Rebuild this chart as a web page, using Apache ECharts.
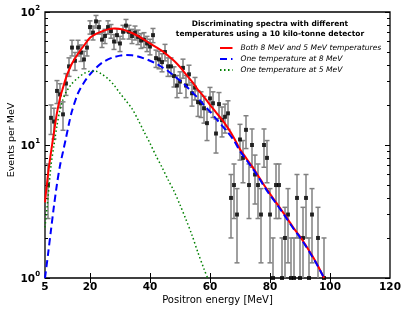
<!DOCTYPE html>
<html><head><meta charset="utf-8">
<script src="https://cdn.jsdelivr.net/npm/echarts@6/dist/echarts.min.js"></script>
<style>html,body{margin:0;padding:0;background:#fff}#c{width:407px;height:312px}</style>
</head><body><div id="c"></div>
<script>
// ---- data ----
const energy = [6,7,8,9,10,11,12,13,14,15,16,17,18,19,20,21,22,23,24,25,26,27,28,29,30,31,32,33,34,35,36,37,38,39,40,41,42,43,44,45,46,47,48,49,50,51,52,53,54,55,56,57,58,59,60,61,62,63,64,65,66,67,68,69,70,71,72,73,74,75,76,77,78,79,80,81,82,83,84,85,86,87,88,89,90,91,92,93,94,96,98];
const events = [5,16,15,25.5,24,17,29,39,54,43,54,49.5,44,54,77,70,85,77,62,66,77,72,60,67,58,71,79,71,66,70,65,61,62,58,55,67,45,44,42,50,39,39,33,28,30,38,28,34,24.5,27,21,20.6,18.9,14.6,22.4,20.6,12.2,20.3,15.4,16.3,17.3,4,5,3,11,8,13,5,10,6,5,3,10,8,3,1,5,5,1,2,3,1,1,4,1,2,4,1,3,2,1];
const errors = [2.2,4.0,3.9,5.0,4.9,4.1,5.4,6.2,7.3,6.6,7.3,7.0,6.6,7.3,8.8,8.4,9.2,8.8,7.9,8.1,8.8,8.5,7.7,8.2,7.6,8.4,8.9,8.4,8.1,8.4,8.1,7.8,7.9,7.6,7.4,8.2,6.7,6.6,6.5,7.1,6.2,6.2,5.7,5.3,5.5,6.2,5.3,5.8,4.9,5.2,4.6,4.5,4.3,3.8,4.7,4.5,3.5,4.5,3.9,4.0,4.2,2.0,2.2,1.7,3.3,2.8,3.6,2.2,3.2,2.4,2.2,1.7,3.2,2.8,1.7,1.0,2.2,2.2,1.0,1.4,1.7,1.0,1.0,2.0,1.0,1.4,2.0,1.0,1.7,1.4,1.0];

const curveE = [5,6,7,8,9,10,11,12,13,14,16,18,20,22,24,26,28,30,32,34,36,38,40,42,44,46,48,50,52,54,56,58,60,62,64,66,68,70,72,74,76,78,80,82,84,86,88,90,92,94,96,98];
const bothTemps = [3.7,6.0,8.8,12.5,17.5,22.5,27,32,36.5,41,48.5,56,64,68.5,71.5,74,75,74.5,72.5,69.5,66,62,58,54.5,51,47,43,38.6,34,30,26,23,20,17.6,15.5,13.4,11.3,9.3,8,6.9,5.9,5,4.3,3.7,3.2,2.75,2.35,2.05,1.75,1.48,1.23,1.0];
const oneTemp8 = [1.0,1.5,2.3,3.5,5.1,7,8.9,11.3,14.5,18,24.5,29.5,34,38,41.5,44,45.8,47,47.5,47.3,46.3,44.8,43,41,38.5,36,33.2,30.5,27.8,25,22.5,20,17.8,15.8,14,12.4,10.8,9.0,7.8,6.75,5.8,4.9,4.2,3.65,3.15,2.7,2.32,2.02,1.73,1.46,1.22,1.0];
const greenE = [5,6,7,8,9,10,11,12,13,14,16,18,20,22,24,26,28,30,32,34,36,38,40,42,44,46,48,50,52,54,56,58,59.2];
const oneTemp5 = [2.4,4.0,7.0,10,14,18.5,22,25,27,29,32,34.5,35.8,35.8,34,31.5,28.2,24.5,21.5,18.8,15.5,12.6,10.3,8.3,6.8,5.5,4.5,3.55,2.75,2.1,1.55,1.17,1.0];

const xLabelValues = [5,20,40,60,80,100,120];
const xTickValues = [20,40,60,80,100];
const yMinorTicks = [2,3,4,5,6,7,8,9,20,30,40,50,60,70,80,90];

const names = ['Both 8 MeV and 5 MeV temperatures','One temperature at 8 MeV','One temperature at 5 MeV'];
const titleText = 'Discriminating spectra with different\ntemperatures using a 10 kilo-tonne detector';

const FONT = 'DejaVu Sans';
const chart = echarts.init(document.getElementById('c'), null, {renderer:'canvas'});

const zipped = (xs, ys) => xs.map((x, i) => [x, ys[i]]);
const minorLog = yMinorTicks.map(v => Math.log10(v));

const xBase = {
  type:'value', min:5, max:120, gridIndex:0,
  splitLine:{show:false}, axisLine:{show:false}
};
const logBase = {
  type:'log', logBase:10, min:1, max:100,
  splitLine:{show:false}, axisLine:{show:false}, minorTick:{show:false}
};
const minorBase = {
  type:'value', min:0, max:2, splitLine:{show:false}, axisLine:{show:false},
  axisLabel:{show:false},
  axisTick:{show:true, inside:true, length:3, customValues:minorLog, lineStyle:{color:'#000', width:1}}
};

chart.setOption({
  animation:false,
  textStyle:{fontFamily:FONT},
  grid:{left:45, right:17, top:12, bottom:34, containLabel:false, outerBoundsMode:'none',
        show:true, borderColor:'#000', borderWidth:1.3, backgroundColor:'transparent'},
  graphic:[{
    type:'text', x:270, y:19.5, z:100,
    style:{text:titleText, textAlign:'center', textVerticalAlign:'top', font:'bold 7.5px "DejaVu Sans"', lineHeight:9.5, fill:'#000'}
  }],
  legend:{
    data:names, orient:'vertical', left:219, top:43.5, padding:0, itemWidth:12.5, itemHeight:8, itemGap:2,
    itemStyle:{opacity:0, color:'transparent', borderWidth:0},
    textStyle:{fontStyle:'italic', fontSize:7.6, color:'#000', fontFamily:FONT, lineHeight:9, padding:[0,0,0,3]}
  },
  xAxis:[
    Object.assign({}, xBase, {
      position:'bottom',
      name:'Positron energy [MeV]', nameLocation:'middle', nameGap:17, nameMoveOverlap:false,
      nameTextStyle:{fontSize:10, color:'#000', fontFamily:FONT},
      axisLabel:{customValues:xLabelValues, color:'#000', fontWeight:'bold', fontSize:10.5, margin:4, fontFamily:FONT},
      axisTick:{show:true, inside:true, length:5, customValues:xTickValues, lineStyle:{color:'#000', width:1}}
    }),
    Object.assign({}, xBase, {
      position:'top',
      axisLabel:{show:false},
      axisTick:{show:true, inside:true, length:5, customValues:xTickValues, lineStyle:{color:'#000', width:1}}
    })
  ],
  yAxis:[
    Object.assign({}, logBase, {
      position:'left',
      name:'Events per MeV', nameLocation:'middle', nameGap:28, nameMoveOverlap:false,
      nameTextStyle:{fontSize:9.5, color:'#000', fontFamily:FONT, padding:[0,0,0,10]},
      axisTick:{show:true, inside:true, length:5, lineStyle:{color:'#000', width:1}},
      axisLabel:{
        margin:5, color:'#000',
        formatter: v => '{b|10}{s|' + Math.round(Math.log10(v)) + '}',
        rich:{
          b:{fontWeight:'bold', fontSize:10.5, fontFamily:FONT, color:'#000', verticalAlign:'bottom', lineHeight:14},
          s:{fontWeight:'bold', fontSize:7, fontFamily:FONT, color:'#000', verticalAlign:'top', lineHeight:14, padding:[0,0,6,0]}
        }
      }
    }),
    Object.assign({}, logBase, {
      position:'right',
      axisLabel:{show:false},
      axisTick:{show:true, inside:true, length:5, lineStyle:{color:'#000', width:1}}
    }),
    Object.assign({}, minorBase, {position:'left'}),
    Object.assign({}, minorBase, {position:'right'})
  ],
  series:[
    {
      type:'custom', name:'errorbars', xAxisIndex:0, yAxisIndex:0, clip:true, z:2,
      data: energy.map((e, i) => [e, events[i], errors[i]]),
      encode:{x:0, y:1},
      renderItem(params, api){
        const x = api.value(0), v = api.value(1), er = api.value(2);
        const lo = v - er > 0.01 ? v - er : 0.01;
        const hi = v + er;
        const pH = api.coord([x, hi]);
        const pL = api.coord([x, lo]);
        const cw = 2.5;
        const st = {stroke:'#808080', lineWidth:1.5};
        return {type:'group', children:[
          {type:'line', shape:{x1:pH[0], y1:pH[1], x2:pL[0], y2:pL[1]}, style:st},
          {type:'line', shape:{x1:pH[0]-cw, y1:pH[1], x2:pH[0]+cw, y2:pH[1]}, style:st},
          {type:'line', shape:{x1:pL[0]-cw, y1:pL[1], x2:pL[0]+cw, y2:pL[1]}, style:st}
        ]};
      }
    },
    {
      type:'scatter', name:'data', xAxisIndex:0, yAxisIndex:0, z:3,
      symbol:'rect', symbolSize:4, itemStyle:{color:'#000'},
      data: zipped(energy, events)
    },
    {
      type:'line', name:names[0], xAxisIndex:0, yAxisIndex:0, z:4,
      showSymbol:false, symbol:'none', smooth:0.3,
      lineStyle:{color:'#ff0000', width:2}, itemStyle:{color:'#ff0000'},
      data: zipped(curveE, bothTemps)
    },
    {
      type:'line', name:names[1], xAxisIndex:0, yAxisIndex:0, z:5,
      showSymbol:false, symbol:'none', smooth:0.3,
      lineStyle:{color:'#0000ff', width:2, type:[7,4]}, itemStyle:{color:'#0000ff'},
      data: zipped(curveE, oneTemp8)
    },
    {
      type:'line', name:names[2], xAxisIndex:0, yAxisIndex:0, z:5,
      showSymbol:false, symbol:'none', smooth:0.3,
      lineStyle:{color:'#008000', width:1.5, type:[1.5,2.5]}, itemStyle:{color:'#008000'},
      data: zipped(greenE, oneTemp5)
    }
  ]
});
</script></body></html>
